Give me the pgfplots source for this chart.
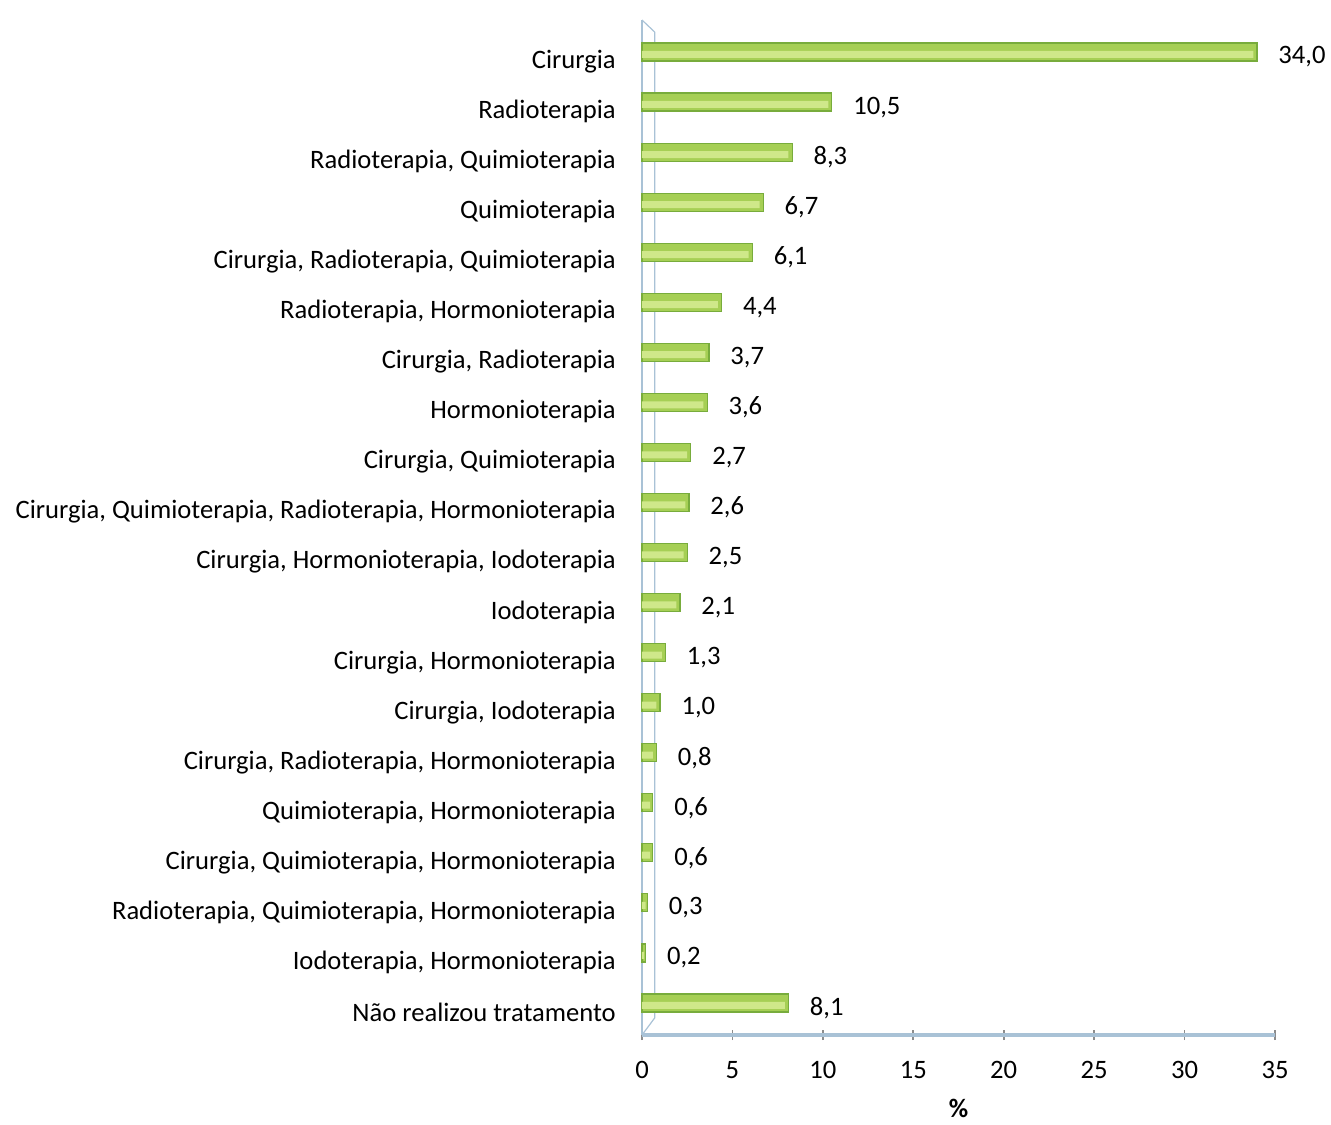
\documentclass[border=0pt]{standalone}
\usepackage{pgfplots}
\pgfplotsset{compat=1.18}
\usepackage{fontspec}
\setmainfont{Carlito}
\definecolor{barmid}{HTML}{A6CF55}
\definecolor{barlight}{HTML}{CFE88A}
\definecolor{bardark}{HTML}{78AC3C}
\definecolor{axline}{HTML}{A9C2D6}
\definecolor{tickc}{HTML}{8C8C8C}
\newcommand{\lblfont}{\fontsize{13.3pt}{15pt}\selectfont}
\begin{document}
\lblfont
\begin{tikzpicture}
\useasboundingbox (-321pt,-44.5pt) rectangle (344.5pt,517.5pt);
\begin{axis}[
  scale only axis,
  width=316.5pt, height=507.5pt,
  xmin=0, xmax=35,
  ymin=-0.64, ymax=19.64,
  y dir=reverse,
  xbar, bar width=9pt,
  xtick={0,5,...,35},
  ytick={0,...,19},
  yticklabels={Cirurgia, Radioterapia, {Radioterapia, Quimioterapia}, Quimioterapia, {Cirurgia, Radioterapia, Quimioterapia}, {Radioterapia, Hormonioterapia}, {Cirurgia, Radioterapia}, Hormonioterapia, {Cirurgia, Quimioterapia}, {Cirurgia, Quimioterapia, Radioterapia, Hormonioterapia}, {Cirurgia, Hormonioterapia, Iodoterapia}, Iodoterapia, {Cirurgia, Hormonioterapia}, {Cirurgia, Iodoterapia}, {Cirurgia, Radioterapia, Hormonioterapia}, {Quimioterapia, Hormonioterapia}, {Cirurgia, Quimioterapia, Hormonioterapia}, {Radioterapia, Quimioterapia, Hormonioterapia}, {Iodoterapia, Hormonioterapia}, {Não realizou tratamento}},
  yticklabel style={font=\lblfont, xshift=-6pt, yshift=-4.75pt},
  xticklabel style={font=\lblfont, yshift=-6pt},
  /pgf/number format/assume math mode=true,
  major y tick style={draw=none},
  major x tick style={tickc, line width=0.8pt},
  tick align=center,
  major tick length=5pt,
  axis x line*=bottom,
  axis y line*=left,
  x axis line style={axline, line width=1.6pt, -},
  y axis line style={axline, line width=0.8pt, -},
  xlabel={\textbf{\%}},
  xlabel style={font=\lblfont, yshift=-1pt},
  clip=false,
]
\draw[axline, line width=0.6pt] (axis cs:0,-0.64) -- (axis cs:0.7,-0.4) -- (axis cs:0.7,19.3) -- (axis cs:0,19.64);
\addplot[draw=bardark, line width=0.6pt, fill=barmid, bar shift=0pt,
  nodes near coords,
  nodes near coords style={font=\lblfont, /pgf/number format/fixed, /pgf/number format/fixed zerofill, /pgf/number format/precision=1, /pgf/number format/use comma, /pgf/number format/assume math mode=true},
  every node near coord/.append style={xshift=6pt, yshift=-2.5pt, text=black}] coordinates {
(34.0,0) (10.5,1) (8.3,2) (6.7,3) (6.1,4) (4.4,5) (3.7,6) (3.6,7) (2.7,8) (2.6,9)
(2.5,10) (2.1,11) (1.3,12) (1.0,13) (0.8,14) (0.6,15) (0.6,16) (0.3,17) (0.2,18) (8.1,19)
};
\addplot[draw=none, fill=barlight, bar width=3.5pt, bar shift=-1.2pt] coordinates {
(33.8,0) (10.3,1) (8.1,2) (6.5,3) (5.9,4) (4.2,5) (3.5,6) (3.4,7) (2.5,8) (2.4,9)
(2.3,10) (1.9,11) (1.1,12) (0.8,13) (0.6,14) (0.45,15) (0.45,16) (0.2,17) (0.12,18) (7.9,19)
};
\end{axis}
\end{tikzpicture}
\end{document}
